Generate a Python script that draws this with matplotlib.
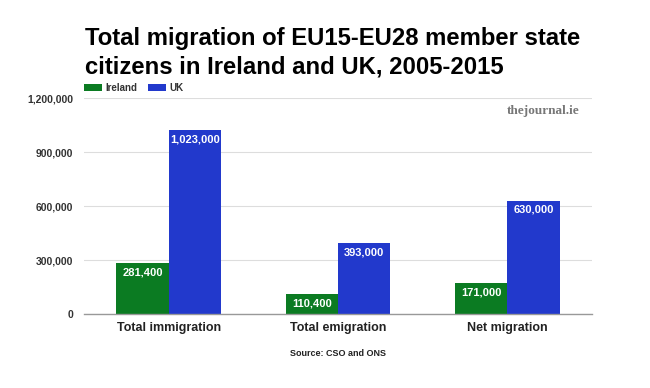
import matplotlib
matplotlib.use("Agg")
import matplotlib.pyplot as plt
import numpy as np

categories = ["Total immigration", "Total emigration", "Net migration"]
ireland = [281400, 110400, 171000]
uk = [1023000, 393000, 630000]
series_names = ["Ireland", "UK"]
yticks = [0, 300000, 600000, 900000, 1200000]
title = "Total migration of EU15-EU28 member state\ncitizens in Ireland and UK, 2005-2015"
source = "Source: CSO and ONS"

GREEN = "#0b7b22"
BLUE = "#2239cc"

plt.rcParams['font.family'] = ['Liberation Sans', 'DejaVu Sans']

fig = plt.figure(figsize=(6.5, 3.88), dpi=100)
ax = fig.add_axes([84/650, 1-314/388, (592-84)/650, (314-98)/388])

x = np.arange(len(categories))
w = 0.31
b1 = ax.bar(x - w/2, ireland, w, color=GREEN, label=series_names[0], zorder=3)
b2 = ax.bar(x + w/2, uk, w, color=BLUE, label=series_names[1], zorder=3)

for bars, vals in ((b1, ireland), (b2, uk)):
    for r, v in zip(bars, vals):
        ax.annotate(f"{v:,}", (r.get_x() + r.get_width()/2, v), xytext=(0, -3),
                    textcoords="offset points", ha="center", va="top",
                    color="white", fontsize=8, fontweight="bold", zorder=4)

ax.set_xlim(-0.5, 2.5)
ax.set_ylim(0, 1200000)
ax.set_yticks(yticks)
ax.set_yticklabels([f"{t:,}" for t in yticks], fontsize=7.5, fontweight="bold", color="#333333")
ax.set_xticks(x)
ax.set_xticklabels(categories, fontsize=9, fontweight="bold", color="#222222")
ax.tick_params(axis="both", length=0)
ax.tick_params(axis="y", pad=8)
ax.tick_params(axis="x", pad=6)
ax.grid(axis="y", color="#dddddd", linewidth=0.8, zorder=0)
for s in ["top", "right", "left"]:
    ax.spines[s].set_visible(False)
ax.spines["bottom"].set_color("#999999")
ax.spines["bottom"].set_linewidth(1.0)
ax.spines["bottom"].set_zorder(5)

fig.text(85/650, 1-27/388, title, fontsize=17.2, fontweight="bold", color="black",
         ha="left", va="top", linespacing=1.3)

leg = fig.legend(handles=[b1, b2], labels=series_names, loc="center left",
                 bbox_to_anchor=(84/650, 1-88/388), ncol=2, frameon=False,
                 fontsize=7, handlelength=1.85, handleheight=0.7, columnspacing=1.1,
                 handletextpad=0.35, borderpad=0, borderaxespad=0)
for t in leg.get_texts():
    t.set_fontweight("bold")
    t.set_color("#333333")

fig.text(580/650, 1-111/388, "thejournal.ie", family=["Liberation Serif", "DejaVu Serif"],
         fontsize=9.5, fontweight="bold", color="#777777", ha="right", va="center")

fig.text(338/650, 1-354/388, source, fontsize=6.5, fontweight="bold", color="#222222",
         ha="center", va="center")

fig.savefig("out.png", dpi=100)
